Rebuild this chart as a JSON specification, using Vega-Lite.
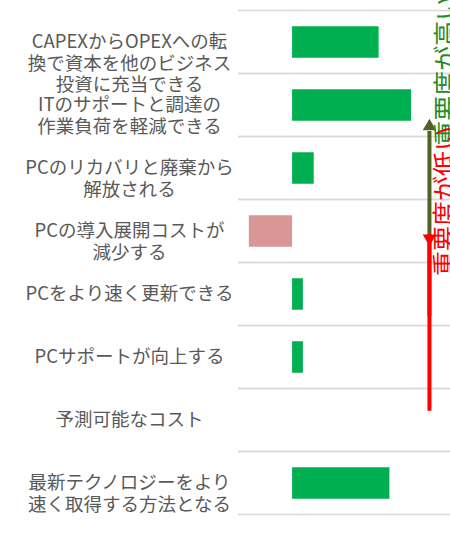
{
  "$schema": "https://vega.github.io/schema/vega-lite/v6.json",
  "width": 212,
  "height": 504,
  "autosize": "none",
  "padding": {"left": 238, "top": 10.5, "right": 0, "bottom": 22.5},
  "background": "white",
  "config": {"view": {"stroke": null}, "font": "Noto Sans CJK JP"},
  "datasets": {
    "bars": [
      {"item": "ITのサポートと調達の|作業負荷を軽減できる", "score": 11},
      {"item": "最新テクノロジーをより|速く取得する方法となる", "score": 9},
      {"item": "CAPEXからOPEXへの転|換で資本を他のビジネス|投資に充当できる", "score": 8},
      {"item": "PCのリカバリと廃棄から|解放される", "score": 2},
      {"item": "PCサポートが向上する", "score": 1},
      {"item": "PCをより速く更新できる", "score": 1},
      {"item": "予測可能なコスト", "score": 0},
      {"item": "PCの導入展開コストが|減少する", "score": -4}
    ],
    "high": [
      {"x": 12.7, "from": "ITのサポートと調達の|作業負荷を軽減できる", "to": "PCをより速く更新できる", "text": "重要度が高い", "textAt": "CAPEXからOPEXへの転|換で資本を他のビジネス|投資に充当できる", "tx": 14.35}
    ],
    "low": [
      {"x": 12.7, "from": "予測可能なコスト", "to": "PCの導入展開コストが|減少する", "text": "重要度が低い", "textAt": "PCの導入展開コストが|減少する", "tx": 14.2}
    ]
  },
  "layer": [
    {
      "data": {"name": "bars"},
      "mark": {"type": "rule", "color": "#D9D9D9", "strokeWidth": 1.5},
      "encoding": {
        "y": {"field": "item", "type": "nominal", "bandPosition": 0}
      }
    },
    {
      "data": {"name": "bars"},
      "mark": {"type": "rule", "color": "#D9D9D9", "strokeWidth": 1.5},
      "encoding": {
        "y": {"field": "item", "type": "nominal", "bandPosition": 1}
      }
    },
    {
      "data": {"name": "bars"},
      "mark": {"type": "bar", "height": 31.5},
      "encoding": {
        "y": {
          "field": "item", "type": "nominal", "sort": null,
          "scale": {"paddingInner": 0, "paddingOuter": 0},
          "axis": {
            "title": null, "grid": false, "domain": false, "ticks": false,
            "labelAlign": "center", "labelBaseline": "middle", "labelPadding": 109,
            "labelFont": "Noto Sans CJK JP", "labelFontSize": 18.5, "labelColor": "#595959",
            "labelLineHeight": 21.5, "labelLimit": 0,
            "labelExpr": "split(datum.value, '|')"
          }
        },
        "x": {
          "field": "score", "type": "quantitative",
          "scale": {"domain": [-5, 14.6], "nice": false},
          "axis": null
        },
        "color": {
          "condition": {"test": "datum.score < 0", "value": "#DA9694"},
          "value": "#00B050"
        }
      }
    },
    {
      "mark": {"type": "rule", "color": "#D9D9D9", "strokeWidth": 1.5},
      "encoding": {
        "x": {"datum": 0, "type": "quantitative"}
      }
    },
    {
      "data": {"name": "high"},
      "mark": {"type": "rule", "strokeWidth": 4, "color": "#4F6228"},
      "encoding": {
        "x": {"field": "x", "type": "quantitative"},
        "y": {"field": "from", "type": "nominal", "bandPosition": 0.913},
        "y2": {"field": "to", "bandPosition": 0.849}
      }
    },
    {
      "data": {"name": "high"},
      "mark": {"type": "point", "shape": "triangle-up", "filled": true, "size": 180, "opacity": 1, "color": "#4F6228"},
      "encoding": {
        "x": {"field": "x", "type": "quantitative"},
        "y": {"field": "from", "type": "nominal", "bandPosition": 0.81}
      }
    },
    {
      "data": {"name": "high"},
      "mark": {"type": "text", "angle": 270, "align": "center", "baseline": "middle", "fontSize": 25, "font": "Noto Sans CJK JP", "color": "#1E8C1E"},
      "encoding": {
        "x": {"field": "tx", "type": "quantitative"},
        "y": {"field": "textAt", "type": "nominal", "bandPosition": 0.957},
        "text": {"field": "text"}
      }
    },
    {
      "data": {"name": "low"},
      "mark": {"type": "rule", "strokeWidth": 4, "color": "#FF0000"},
      "encoding": {
        "x": {"field": "x", "type": "quantitative"},
        "y": {"field": "from", "type": "nominal", "bandPosition": 0.352},
        "y2": {"field": "to", "bandPosition": 0.548}
      }
    },
    {
      "data": {"name": "low"},
      "mark": {"type": "point", "shape": "triangle-down", "filled": true, "size": 180, "opacity": 1, "color": "#FF0000"},
      "encoding": {
        "x": {"field": "x", "type": "quantitative"},
        "y": {"field": "to", "type": "nominal", "bandPosition": 0.646}
      }
    },
    {
      "data": {"name": "low"},
      "mark": {"type": "text", "angle": 270, "align": "center", "baseline": "middle", "fontSize": 25, "font": "Noto Sans CJK JP", "color": "#FF0000"},
      "encoding": {
        "x": {"field": "tx", "type": "quantitative"},
        "y": {"field": "textAt", "type": "nominal", "bandPosition": 0.024},
        "text": {"field": "text"}
      }
    }
  ]
}
